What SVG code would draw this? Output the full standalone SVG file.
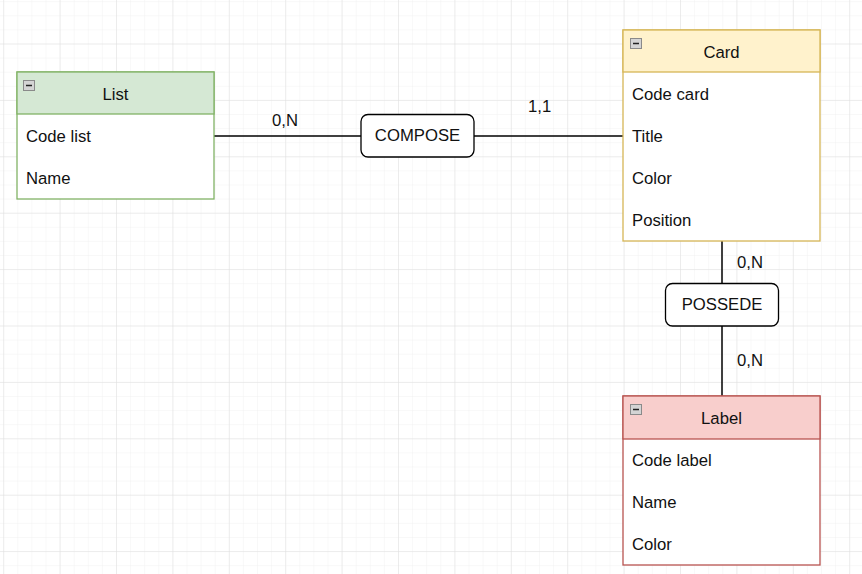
<svg xmlns="http://www.w3.org/2000/svg" width="862" height="574" viewBox="0 0 862 574">
  <defs>
    <pattern id="minor" x="3.2" y="43.5" width="14.1" height="14.1" patternUnits="userSpaceOnUse">
      <path d="M 0 0 L 14.1 0 M 0 0 L 0 14.1" fill="none" stroke="#f1f1f1" stroke-width="1"/>
    </pattern>
    <pattern id="major" x="3.2" y="43.5" width="56.4" height="56.4" patternUnits="userSpaceOnUse">
      <path d="M 0 0 L 56.4 0 M 0 0 L 0 56.4" fill="none" stroke="#e0e0e0" stroke-width="1"/>
    </pattern>
    <g id="collapse">
      <rect x="0" y="0" width="11" height="10" fill="#d4d4d4" stroke="#8a8a8a" stroke-width="1"/>
      <line x1="2.5" y1="5" x2="8.5" y2="5" stroke="#222" stroke-width="1.5"/>
    </g>
  </defs>
  <style>
    text { font-family: "Liberation Sans", Arial, sans-serif; font-size: 16.7px; fill: #111; }
    .title { text-anchor: middle; }
    .conn { stroke: #000; stroke-width: 1.5; fill: none; }
    .rel { fill: #fff; stroke: #000; stroke-width: 1.3; }
    .body { fill: #fff; }
  </style>
  <rect width="862" height="574" fill="#fff"/>
  <rect width="862" height="574" fill="url(#minor)"/>
  <rect width="862" height="574" fill="url(#major)"/>

  <g id="connectors">
    <line class="conn" x1="214" y1="136" x2="361" y2="136"/>
    <line class="conn" x1="474" y1="136" x2="623" y2="136"/>
    <line class="conn" x1="722" y1="241" x2="722" y2="283"/>
    <line class="conn" x1="722" y1="326" x2="722" y2="396"/>
    <text x="272" y="126">0,N</text>
    <text x="528" y="112">1,1</text>
    <text x="737" y="268">0,N</text>
    <text x="737" y="366">0,N</text>
  </g>

  <g id="list">
    <rect class="body" x="17" y="72" width="197" height="127" stroke="#82b366" stroke-width="1.3"/>
    <rect x="17" y="72" width="197" height="42" fill="#d5e8d4" stroke="#82b366" stroke-width="1.3"/>
    <use href="#collapse" x="23.5" y="80.5"/>
    <text class="title" x="115.5" y="100">List</text>
    <text x="26" y="142">Code list</text>
    <text x="26" y="184">Name</text>
  </g>

  <g id="card">
    <rect class="body" x="623" y="30" width="197" height="211" stroke="#d6b656" stroke-width="1.3"/>
    <rect x="623" y="30" width="197" height="42" fill="#fff2cc" stroke="#d6b656" stroke-width="1.3"/>
    <use href="#collapse" x="630.5" y="38.5"/>
    <text class="title" x="721.5" y="58">Card</text>
    <text x="632" y="100">Code card</text>
    <text x="632" y="142">Title</text>
    <text x="632" y="184">Color</text>
    <text x="632" y="226">Position</text>
  </g>

  <g id="label">
    <rect class="body" x="623" y="396" width="197" height="169" stroke="#b85450" stroke-width="1.3"/>
    <rect x="623" y="396" width="197" height="43" fill="#f8cecc" stroke="#b85450" stroke-width="1.3"/>
    <use href="#collapse" x="630.5" y="404.5"/>
    <text class="title" x="721.5" y="424">Label</text>
    <text x="632" y="466">Code label</text>
    <text x="632" y="508">Name</text>
    <text x="632" y="550">Color</text>
  </g>

  <g id="compose">
    <rect class="rel" x="361" y="114.5" width="113" height="42.5" rx="7"/>
    <text class="title" x="417.5" y="141">COMPOSE</text>
  </g>

  <g id="possede">
    <rect class="rel" x="665.5" y="283.5" width="113" height="42.5" rx="7"/>
    <text class="title" x="722" y="310">POSSEDE</text>
  </g>
</svg>
